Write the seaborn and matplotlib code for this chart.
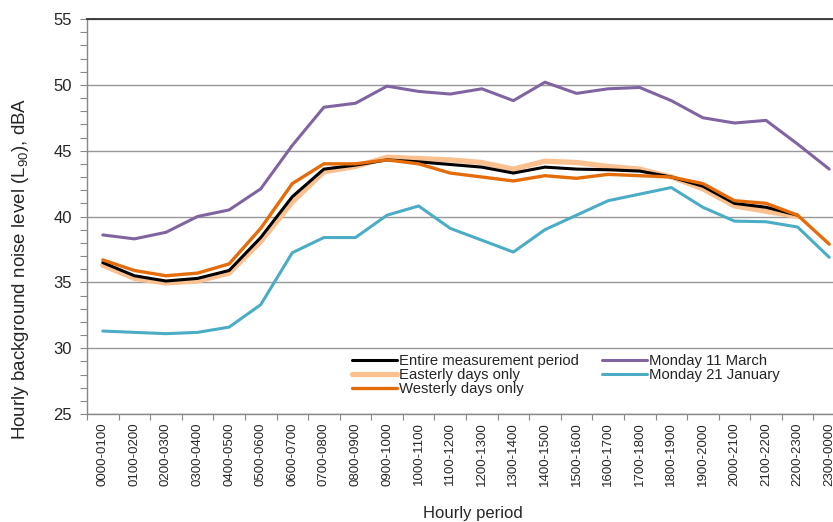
import numpy as np
import pandas as pd
import matplotlib
matplotlib.use("Agg")
import matplotlib.pyplot as plt
import seaborn as sns
from matplotlib.ticker import FixedLocator, MultipleLocator

# hourly periods
periods = ["0000-0100", "0100-0200", "0200-0300", "0300-0400", "0400-0500", "0500-0600",
           "0600-0700", "0700-0800", "0800-0900", "0900-1000", "1000-1100", "1100-1200",
           "1200-1300", "1300-1400", "1400-1500", "1500-1600", "1600-1700", "1700-1800",
           "1800-1900", "1900-2000", "2000-2100", "2100-2200", "2200-2300", "2300-0000"]

# L90 values, dBA
entire = [36.5, 35.5, 35.1, 35.3, 35.9, 38.4, 41.5, 43.6, 43.9, 44.3, 44.15, 43.95,
          43.75, 43.3, 43.75, 43.6, 43.55, 43.45, 43.0, 42.3, 41.0, 40.7, 40.1, np.nan]
easterly = [36.3, 35.3, 34.95, 35.1, 35.7, 38.1, 41.1, 43.4, 43.8, 44.5, 44.4, 44.3,
            44.1, 43.6, 44.2, 44.1, 43.8, 43.6, 43.0, 42.1, 40.8, 40.4, 40.0, np.nan]
westerly = [36.7, 35.9, 35.5, 35.7, 36.4, 39.1, 42.5, 44.0, 44.0, 44.3, 44.0, 43.3,
            43.0, 42.7, 43.1, 42.9, 43.2, 43.1, 43.0, 42.5, 41.2, 41.0, 40.1, 37.9]
mon_11_march = [38.6, 38.3, 38.8, 40.0, 40.5, 42.1, 45.4, 48.3, 48.6, 49.9, 49.5, 49.3,
                49.7, 48.8, 50.2, 49.35, 49.7, 49.8, 48.8, 47.5, 47.1, 47.3, 45.5, 43.6]
mon_21_jan = [31.3, 31.2, 31.1, 31.2, 31.6, 33.3, 37.25, 38.4, 38.4, 40.1, 40.8, 39.1,
              38.2, 37.3, 39.0, 40.1, 41.2, 41.7, 42.2, 40.7, 39.65, 39.6, 39.2, 36.9]

sns.set_style("white")
plt.rcParams["font.family"] = ["Liberation Sans", "DejaVu Sans"]
plt.rcParams["mathtext.fontset"] = "custom"
plt.rcParams["mathtext.rm"] = "Liberation Sans"

fig = plt.figure(figsize=(8.33, 5.22), dpi=100)
W, H = 833, 522
ax = fig.add_axes([87 / W, 1 - 414 / H, (845 - 87) / W, 395 / H])

# drawing order: peach under black, orange on top
series = [
    ("Easterly days only", easterly, "#FAC090", 3.8, 1),
    ("Entire measurement period", entire, "#000000", 2.2, 2),
    ("Westerly days only", westerly, "#E46C0A", 2.4, 3),
    ("Monday 11 March", mon_11_march, "#8064A2", 2.2, 4),
    ("Monday 21 January", mon_21_jan, "#4BACC6", 2.2, 5),
]
handles = {}
for name, vals, col, lw, z in series:
    df = pd.DataFrame({"period": periods, "L90": vals})
    sns.lineplot(data=df, x="period", y="L90", color=col, linewidth=lw, ax=ax,
                 label=name, zorder=z)
    handles[name] = ax.get_lines()[-1]

ax.set_xlim(-0.5, 23.5)
ax.set_ylim(25, 55)

# y axis
ax.yaxis.set_major_locator(MultipleLocator(5))
ax.yaxis.set_minor_locator(MultipleLocator(1))
ax.tick_params(axis="y", which="both", direction="out", length=5, width=0.8,
               color="#888888", left=True, labelsize=12, pad=6)
ax.grid(axis="y", which="major", color="#979797", linewidth=1.0)
ax.set_axisbelow(True)

# x axis: ticks at boundaries, labels at centres
ax.xaxis.set_major_locator(FixedLocator(np.arange(-0.5, 24, 1)))
ax.xaxis.set_minor_locator(FixedLocator(np.arange(0, 24)))
ax.set_xticklabels([])
ax.set_xticklabels(periods, minor=True, rotation=90, va="top", ha="center")
ax.tick_params(axis="x", which="major", direction="out", length=4, width=0.8,
               color="#888888", bottom=True)
ax.tick_params(axis="x", which="minor", length=0, labelsize=9.5, pad=6)

for s in ["left", "bottom"]:
    ax.spines[s].set_color("#888888")
    ax.spines[s].set_linewidth(1.0)
ax.spines["top"].set_color("#333333")
ax.spines["top"].set_linewidth(1.3)
ax.spines["right"].set_visible(False)

ax.set_xlabel("Hourly period", fontsize=12)
ax.xaxis.set_label_coords((473 - 87) / 758, -(506 - 414) / 395)
ax.set_ylabel("")
fig.text(20.5 / W, 1 - 269 / H, "Hourly background noise level (L$\\mathregular{_{90}}$), dBA",
         rotation=90, ha="center", va="center", fontsize=13.5)

order = ["Entire measurement period", "Easterly days only", "Westerly days only",
         "Monday 11 March", "Monday 21 January"]
ax.legend([handles[n] for n in order], order, ncol=2, frameon=False,
          loc="upper left", bbox_to_anchor=(352 / W, 1 - 354 / H),
          bbox_transform=fig.transFigure, fontsize=10.7, borderpad=0,
          borderaxespad=0, handlelength=3.0, handletextpad=0.15,
          labelspacing=0.0, columnspacing=1.6)

fig.savefig("out.png", dpi=100)
